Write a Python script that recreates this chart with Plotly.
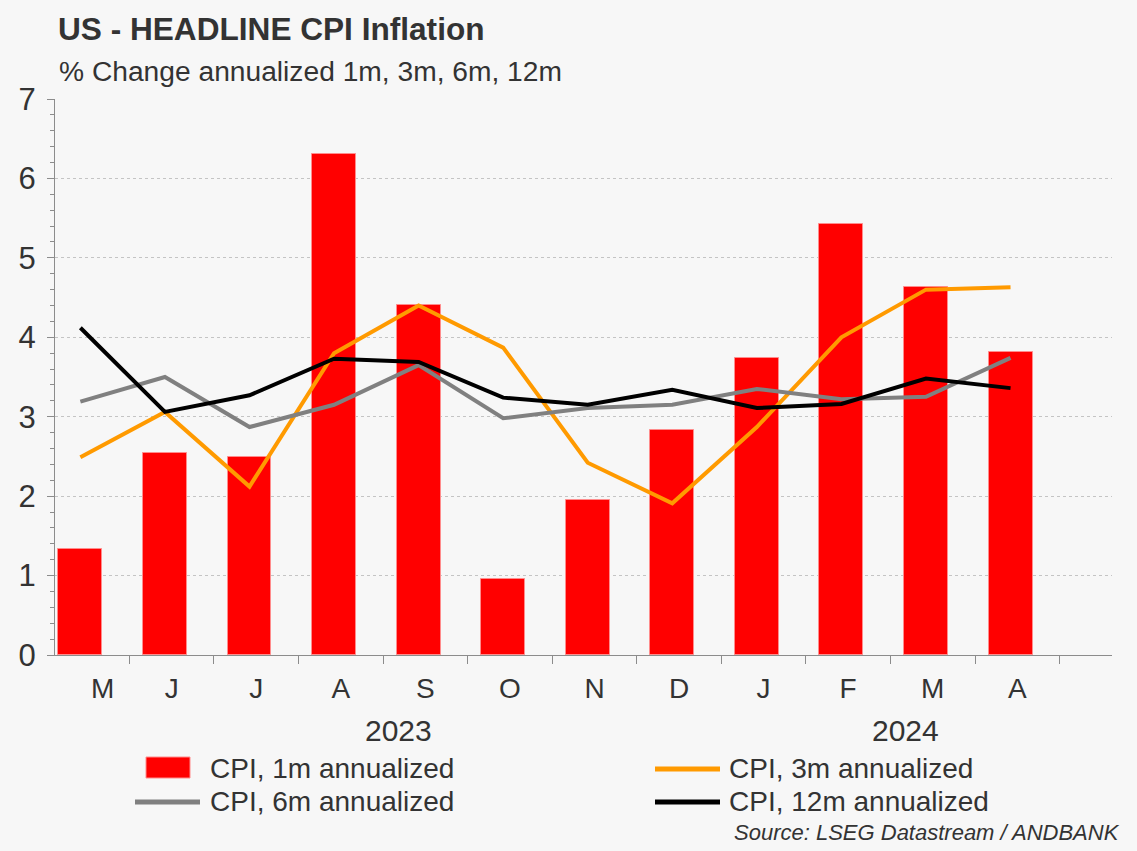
import plotly.graph_objects as go

months = ["M", "J", "J", "A", "S", "O", "N", "D", "J", "F", "M", "A"]
years = ["2023", "2024"]
year_of_month = [0, 0, 0, 0, 0, 0, 0, 0, 1, 1, 1, 1]

cpi_1m = [1.33, 2.54, 2.49, 6.31, 4.41, 0.96, 1.95, 2.83, 3.74, 5.43, 4.63, 3.82]
cpi_3m = [2.49, 3.06, 2.12, 3.80, 4.40, 3.87, 2.42, 1.91, 2.87, 4.00, 4.60, 4.63]
cpi_6m = [3.19, 3.50, 2.87, 3.15, 3.65, 2.98, 3.11, 3.15, 3.35, 3.22, 3.25, 3.74]
cpi_12m = [4.12, 3.06, 3.27, 3.73, 3.69, 3.24, 3.15, 3.34, 3.11, 3.16, 3.48, 3.36]

series_names = ["CPI, 1m annualized", "CPI, 3m annualized", "CPI, 6m annualized", "CPI, 12m annualized"]

FONT = "Liberation Sans, Arial, sans-serif"
TXT = "#333333"
AX = "#8c8c8c"
BG = "#f7f7f7"
RED, RED_EDGE = "#ff0000", "#ff8c8c"
ORANGE, GREY, BLACK = "#ff9a00", "#808080", "#000000"

W, H = 1137, 851
ML, MR, MT, MB = 55, 25, 99, 196
PW, PH = W - ML - MR, H - MT - MB


def px_x(p):
    return (p - ML) / PW


def px_y(p):
    return (H - MB - p) / PH


x = list(range(len(months)))
x_min, x_max = -0.3, 12.2
bounds = [i + 0.58 for i in x]
first_label_left = -0.05
lab_pos = [(max(first_label_left, i - 0.42) + i + 0.58) / 2 for i in x]

fig = go.Figure()
fig.add_trace(go.Bar(x=x, y=cpi_1m, name=series_names[0], width=0.52,
                     marker=dict(color=RED, line=dict(color=RED_EDGE, width=1))))
fig.add_trace(go.Scatter(x=x, y=cpi_3m, name=series_names[1], mode="lines",
                         line=dict(color=ORANGE, width=4)))
fig.add_trace(go.Scatter(x=x, y=cpi_6m, name=series_names[2], mode="lines",
                         line=dict(color=GREY, width=4)))
fig.add_trace(go.Scatter(x=x, y=cpi_12m, name=series_names[3], mode="lines",
                         line=dict(color=BLACK, width=4)))

# year labels centred under their months
for yi, yr in enumerate(years):
    idx = [i for i, g in enumerate(year_of_month) if g == yi]
    centre = sum(idx) / len(idx) + 0.26
    fig.add_annotation(x=centre, xref="x", y=px_y(730), yref="paper", text=yr,
                       showarrow=False, font=dict(size=30, color=TXT, family=FONT),
                       yanchor="middle")

# manual legend (2 x 2) with large swatches as in the reference
leg_cols = [146, 655]
leg_rows = [768, 801]
leg_text_x = [211, 730]
for k, name in enumerate(series_names):
    r, c = k // 2, k % 2
    cy = leg_rows[r]
    if k == 0:
        fig.add_shape(type="rect", xref="paper", yref="paper",
                      x0=px_x(leg_cols[c]), x1=px_x(leg_cols[c] + 44),
                      y0=px_y(cy - 11), y1=px_y(cy + 10),
                      fillcolor=RED, line=dict(color=RED_EDGE, width=1))
    else:
        col = [None, ORANGE, GREY, BLACK][k]
        x0 = 135 if c == 0 else 655
        fig.add_shape(type="line", xref="paper", yref="paper",
                      x0=px_x(x0), x1=px_x(x0 + 65), y0=px_y(cy + 1), y1=px_y(cy + 1),
                      line=dict(color=col, width=5))
    fig.add_annotation(x=px_x(leg_text_x[c] - 3), xref="paper", y=px_y(cy), yref="paper",
                       xanchor="left", yanchor="middle", text=name, showarrow=False,
                       font=dict(size=28, color=TXT, family=FONT))

fig.add_annotation(x=px_x(57), xref="paper", y=px_y(71), yref="paper", xanchor="left", yanchor="middle",
                   text="% Change annualized 1m, 3m, 6m, 12m", showarrow=False,
                   font=dict(size=28.2, color=TXT, family=FONT))
fig.add_annotation(x=px_x(1122), xref="paper", y=px_y(832), yref="paper", xanchor="right", yanchor="middle",
                   text="<i>Source: LSEG Datastream / ANDBANK</i>", showarrow=False,
                   font=dict(size=22, color=TXT, family=FONT))

fig.update_layout(
    width=W, height=H,
    margin=dict(l=ML, r=MR, t=MT, b=MB, autoexpand=False),
    paper_bgcolor=BG, plot_bgcolor=BG,
    font=dict(family=FONT, color=TXT),
    title=dict(text="<b>US - HEADLINE CPI Inflation</b>", x=px_x(58), xref="paper", xanchor="left",
               y=1 - 29 / H, yref="container", yanchor="middle",
               font=dict(size=31.6, color=TXT, family=FONT)),
    showlegend=False,
    bargap=0,
)
fig.update_xaxes(range=[x_min, x_max], tickmode="array", tickvals=lab_pos, ticktext=months,
                 ticks="", showgrid=False, zeroline=False, showline=True, linecolor=AX,
                 linewidth=1, tickfont=dict(size=28, color=TXT, family=FONT),
                 ticklabelstandoff=8,
                 minor=dict(tickmode="array", tickvals=bounds, ticks="outside", ticklen=8,
                            tickcolor=AX, tickwidth=1, showgrid=False))
fig.update_yaxes(range=[0, 7], tickmode="linear", tick0=0, dtick=1, ticks="outside", ticklen=7,
                 tickcolor=AX, showline=True, linecolor=AX, linewidth=1, zeroline=False,
                 showgrid=True, gridcolor="#c4c4c4", griddash="dot", gridwidth=1,
                 tickfont=dict(size=31, color=TXT, family=FONT), ticklabelstandoff=5,
                 minor=dict(dtick=0.2, ticks="outside", ticklen=4, tickcolor=AX, showgrid=False))

fig.write_html("out.html", config={"displayModeBar": False},
               post_script="document.body.style.margin='0';"
                           "document.body.style.background='" + BG + "';")
